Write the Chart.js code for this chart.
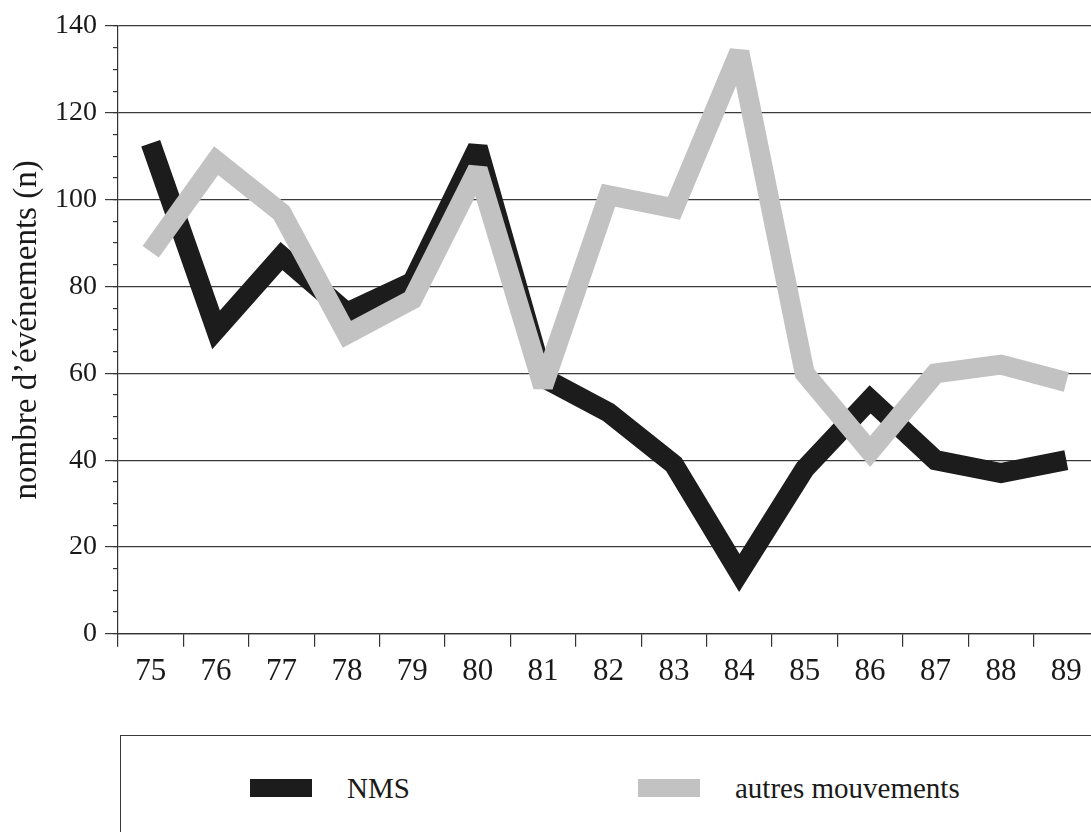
<!DOCTYPE html>
<html>
<head>
<meta charset="utf-8">
<script src="https://cdn.jsdelivr.net/npm/chart.js@4/dist/chart.umd.min.js"></script>
<style>
  html, body { margin: 0; padding: 0; background: #fff; overflow: hidden; }
  #wrap { position: relative; width: 1100px; height: 832px; }
  #c { position: absolute; left: 0; top: 0; }
  #legend { position: absolute; left: 120px; top: 735px; width: 1000px; height: 200px;
            border: 1.5px solid #3a3a3a; box-sizing: border-box; }
  .sw { position: absolute; top: 43px; width: 62px; height: 18px; }
  .lt { position: absolute; top: 32px; font-family: "Liberation Serif", "Times New Roman", serif;
        font-size: 29px; line-height: 40px; color: #1a1a1a; white-space: nowrap; }
</style>
</head>
<body>
<div id="wrap">
  <canvas id="c" width="1100" height="710"></canvas>
  <div id="legend"></div>
</div>
<script>
const years = ['75','76','77','78','79','80','81','82','83','84','85','86','87','88','89'];
const nms = [113, 70, 87, 74, 81, 112, 59, 51, 39, 14, 38, 54, 40, 37, 40];
const autres = [88, 109, 97, 69, 77, 107, 57, 101, 98, 134, 60, 42, 60, 62, 58];
const seriesNames = ['NMS', 'autres mouvements'];
const seriesColors = ['#1c1c1c', '#c2c2c2'];
const yTitle = 'nombre d\u2019événements (n)';

const serif = '"Liberation Serif", "Times New Roman", serif';

const miterPlugin = {
  id: 'miterLimit',
  beforeDatasetsDraw(chart) { chart.ctx.miterLimit = 2.5; }
};

new Chart(document.getElementById('c'), {
  type: 'line',
  data: {
    labels: years,
    datasets: [
      { label: seriesNames[0], data: nms, borderColor: seriesColors[0], backgroundColor: seriesColors[0],
        borderWidth: 20, pointRadius: 0, tension: 0, borderJoinStyle: 'miter', borderCapStyle: 'butt', order: 1 },
      { label: seriesNames[1], data: autres, borderColor: seriesColors[1], backgroundColor: seriesColors[1],
        borderWidth: 20, pointRadius: 0, tension: 0, borderJoinStyle: 'miter', borderCapStyle: 'butt', order: 0 }
    ]
  },
  options: {
    responsive: false,
    animation: false,
    layout: { padding: { top: 26, right: 1, bottom: 14, left: 0 } },
    plugins: { legend: { display: false }, tooltip: { enabled: false } },
    scales: {
      x: {
        offset: true,
        grid: { offset: true, drawOnChartArea: false, drawTicks: true, tickLength: 13, color: '#333', lineWidth: 1.2 },
        border: { display: true, color: '#333', width: 1.2 },
        ticks: { font: { family: serif, size: 31 }, color: '#1a1a1a', padding: 6, maxRotation: 0, autoSkip: false }
      },
      y: {
        position: 'left',
        weight: 1,
        min: 0, max: 140,
        afterFit(scale) { scale.width = 118; },
        grid: { color: '#3a3a3a', lineWidth: 1.2, tickLength: 13 },
        border: { display: true, color: '#333', width: 1.2 },
        ticks: { stepSize: 20, font: { family: serif, size: 28 }, color: '#1a1a1a', padding: 8 },
        title: { display: true, text: yTitle, font: { family: serif, size: 33 }, color: '#1a1a1a',
                 padding: { top: 8, bottom: 0 } }
      },
      yMinor: {
        position: 'left',
        weight: 0,
        min: 0, max: 140,
        afterFit(scale) { scale.width = 0; },
        grid: { drawOnChartArea: false, tickLength: 5, color: '#333', lineWidth: 1.2 },
        border: { display: false },
        ticks: { stepSize: 5, display: false }
      }
    }
  },
  plugins: [miterPlugin]
});

// HTML legend built from series arrays
const leg = document.getElementById('legend');
const swX = [129, 517], txtX = [226, 614];
seriesNames.forEach((n, i) => {
  const s = document.createElement('div');
  s.className = 'sw'; s.style.left = swX[i] + 'px'; s.style.background = seriesColors[i];
  leg.appendChild(s);
  const t = document.createElement('div');
  t.className = 'lt'; t.style.left = txtX[i] + 'px'; t.textContent = n;
  leg.appendChild(t);
});
</script>
</body>
</html>
